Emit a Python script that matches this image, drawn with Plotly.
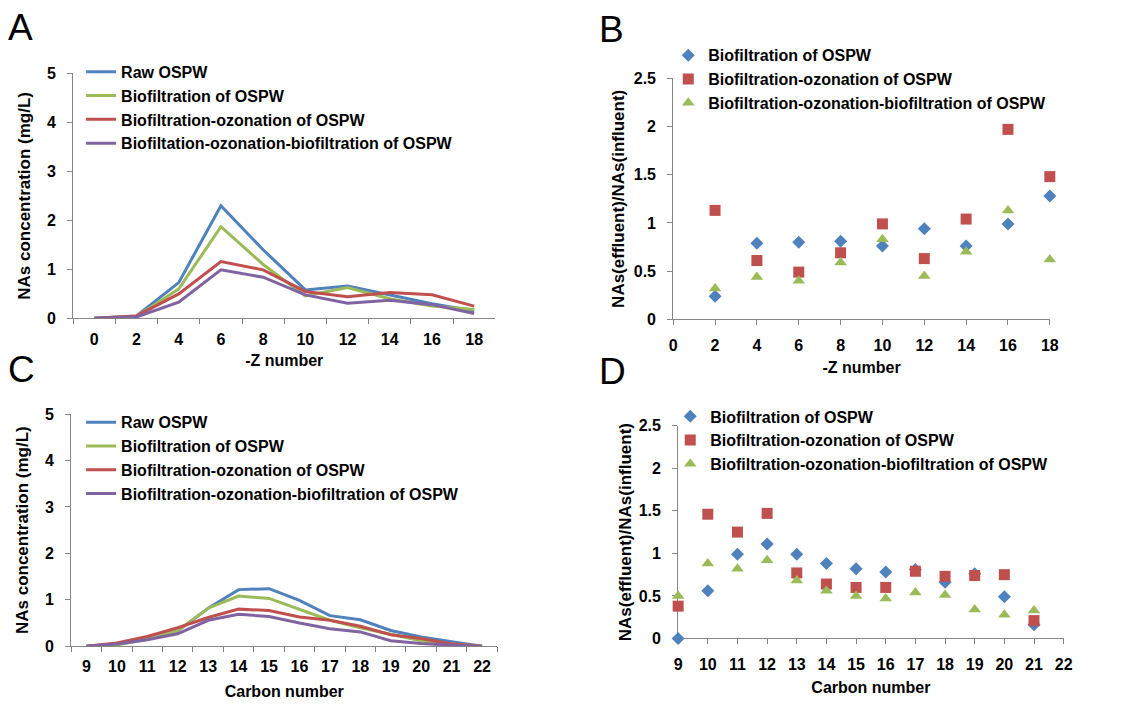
import plotly.graph_objects as go

# ---------------- data ----------------
z_numbers = [0, 2, 4, 6, 8, 10, 12, 14, 16, 18]
raw_z = [0, 0.05, 0.73, 2.30, 1.40, 0.58, 0.66, 0.48, 0.30, 0.15]
bio_z = [0, 0.04, 0.60, 1.87, 1.10, 0.46, 0.63, 0.40, 0.25, 0.18]
bo_z = [0, 0.05, 0.50, 1.16, 0.99, 0.55, 0.44, 0.53, 0.48, 0.25]
bob_z = [0, 0.03, 0.33, 0.99, 0.84, 0.48, 0.31, 0.37, 0.28, 0.10]

ratio_z_x = [2, 4, 6, 8, 10, 12, 14, 16, 18]
ratio_bio_z = [0.24, 0.79, 0.80, 0.81, 0.76, 0.94, 0.76, 0.99, 1.28]
ratio_bo_z = [1.13, 0.61, 0.49, 0.69, 0.99, 0.63, 1.04, 1.97, 1.48]
ratio_bob_z = [0.32, 0.44, 0.40, 0.59, 0.83, 0.45, 0.70, 1.13, 0.62]

carbon_numbers = [9, 10, 11, 12, 13, 14, 15, 16, 17, 18, 19, 20, 21, 22]
raw_c = [0, 0.05, 0.15, 0.33, 0.82, 1.22, 1.24, 0.99, 0.66, 0.57, 0.34, 0.20, 0.10, 0]
bio_c = [0, 0.03, 0.15, 0.33, 0.82, 1.08, 1.03, 0.80, 0.56, 0.40, 0.26, 0.12, 0.05, 0]
bo_c = [0, 0.07, 0.21, 0.40, 0.62, 0.80, 0.77, 0.63, 0.56, 0.43, 0.25, 0.17, 0.05, 0]
bob_c = [0, 0.05, 0.14, 0.27, 0.56, 0.69, 0.64, 0.50, 0.38, 0.31, 0.12, 0.06, 0.02, 0]

ratio_c_x = [9, 10, 11, 12, 13, 14, 15, 16, 17, 18, 19, 20, 21]
ratio_bio_c = [0.0, 0.56, 0.99, 1.11, 0.99, 0.88, 0.82, 0.78, 0.81, 0.66, 0.76, 0.49, 0.16]
ratio_bo_c = [0.38, 1.46, 1.25, 1.47, 0.77, 0.64, 0.60, 0.60, 0.79, 0.73, 0.74, 0.75, 0.21]
ratio_bob_c = [0.50, 0.88, 0.82, 0.92, 0.68, 0.56, 0.50, 0.47, 0.54, 0.51, 0.34, 0.28, 0.33]

line_names_a = ["Raw OSPW", "Biofiltration of OSPW", "Biofiltration-ozonation of OSPW",
                "Biofiltation-ozonation-biofiltration of OSPW"]
line_names_c = ["Raw OSPW", "Biofiltration of OSPW", "Biofiltration-ozonation of OSPW",
                "Biofiltration-ozonation-biofiltration of OSPW"]
scatter_names = ["Biofiltration of OSPW", "Biofiltration-ozonation of OSPW",
                 "Biofiltration-ozonation-biofiltration of OSPW"]

# ---------------- style ----------------
FONT = "Liberation Sans, Arial, sans-serif"
BLUE, GREEN, RED, PURPLE = "#4F81BD", "#9BBB59", "#C0504D", "#8064A2"
AXIS = "#868686"
W, H = 1130, 708

def px(x0, x1):
    return [x0 / W, x1 / W]

def py(y_top, y_bot):
    return [1 - y_bot / H, 1 - y_top / H]

fig = go.Figure()

# Panel A lines
for name, ys, col in zip(line_names_a, [raw_z, bio_z, bo_z, bob_z], [BLUE, GREEN, RED, PURPLE]):
    fig.add_trace(go.Scatter(x=[str(v) for v in z_numbers], y=ys, mode="lines", name=name,
                             line=dict(color=col, width=3), cliponaxis=False,
                             xaxis="x", yaxis="y", legend="legend"))

# Panel B scatter
for name, ys, col, sym, sz in zip(scatter_names, [ratio_bio_z, ratio_bo_z, ratio_bob_z],
                                  [BLUE, RED, GREEN], ["diamond", "square", "triangle-up"], [10, 11, 11]):
    fig.add_trace(go.Scatter(x=ratio_z_x, y=ys, mode="markers", name=name,
                             marker=dict(color=col, symbol=sym, size=sz), cliponaxis=False,
                             xaxis="x2", yaxis="y2", legend="legend2"))

# Panel C lines
for name, ys, col in zip(line_names_c, [raw_c, bio_c, bo_c, bob_c], [BLUE, GREEN, RED, PURPLE]):
    fig.add_trace(go.Scatter(x=[str(v) for v in carbon_numbers], y=ys, mode="lines", name=name,
                             line=dict(color=col, width=3), cliponaxis=False,
                             xaxis="x3", yaxis="y3", legend="legend3"))

# Panel D scatter
for name, ys, col, sym, sz in zip(scatter_names, [ratio_bio_c, ratio_bo_c, ratio_bob_c],
                                  [BLUE, RED, GREEN], ["diamond", "square", "triangle-up"], [10, 11, 11]):
    fig.add_trace(go.Scatter(x=ratio_c_x, y=ys, mode="markers", name=name,
                             marker=dict(color=col, symbol=sym, size=sz), cliponaxis=False,
                             xaxis="x4", yaxis="y4", legend="legend4"))

tickfont = dict(family=FONT, size=16, color="black", weight="bold")
titlefont = dict(family=FONT, size=16, color="black", weight="bold")
ytitlefont = dict(family=FONT, size=17, color="black", weight="bold")

common_x = dict(showline=True, linecolor=AXIS, linewidth=1, ticks="outside", ticklen=5,
                tickcolor=AXIS, showgrid=False, zeroline=False, tickfont=tickfont,
                ticklabelstandoff=6, layer="below traces")
common_y = dict(showline=True, linecolor=AXIS, linewidth=1, ticks="outside", ticklen=5,
                tickcolor=AXIS, showgrid=False, zeroline=False, tickfont=tickfont,
                ticklabelstandoff=8, layer="below traces")

legend_common = dict(bgcolor="rgba(0,0,0,0)", font=dict(family=FONT, size=16, color="black", weight="bold"),
                     xanchor="left", yanchor="top", tracegroupgap=0, itemwidth=30)

fig.update_layout(
    width=W, height=H, margin=dict(l=0, r=0, t=0, b=0),
    paper_bgcolor="white", plot_bgcolor="white",
    xaxis=dict(common_x, domain=px(70, 497), anchor="y", type="category", tickson="boundaries",
               range=[-0.5, 9.5], title=dict(text="-Z number", font=titlefont, standoff=8)),
    yaxis=dict(common_y, domain=py(67, 318), anchor="x", range=[0, 5], dtick=1,
               title=dict(text="NAs concentration (mg/L)", font=ytitlefont, standoff=12)),
    xaxis2=dict(common_x, domain=px(677, 1058), anchor="y2", range=[0, 18], dtick=2,
                title=dict(text="-Z number", font=titlefont, standoff=9)),
    yaxis2=dict(common_y, domain=py(72, 319), anchor="x2", range=[0, 2.5], dtick=0.5,
                title=dict(text="NAs(effluent)/NAs(influent)", font=ytitlefont, standoff=4)),
    xaxis3=dict(common_x, domain=px(68, 499), anchor="y3", type="category", tickson="boundaries",
                range=[-0.5, 13.5], title=dict(text="Carbon number", font=titlefont, standoff=11)),
    yaxis3=dict(common_y, domain=py(416, 654), anchor="x3", range=[0, 5], dtick=1,
                title=dict(text="NAs concentration (mg/L)", font=ytitlefont, standoff=12)),
    xaxis4=dict(common_x, domain=px(682, 1072), anchor="y4", range=[9, 22], dtick=1,
                title=dict(text="Carbon number", font=titlefont, standoff=10)),
    yaxis4=dict(common_y, domain=py(428, 646), anchor="x4", range=[0, 2.5], dtick=0.5,
                title=dict(text="NAs(effluent)/NAs(influent)", font=ytitlefont, standoff=2)),
    legend=dict(legend_common, x=78 / W, y=1 - 48 / H),
    legend2=dict(legend_common, x=672 / W, y=1 - 31 / H),
    legend3=dict(legend_common, x=78 / W, y=1 - 407 / H),
    legend4=dict(legend_common, x=674 / W, y=1 - 401 / H),
)

letters = [("A", 2, 43), ("B", 600, 45), ("C", 2, 393), ("D", 600, 396)]
for txt, x, yb in letters:
    fig.add_annotation(text=txt, x=x / W, y=1 - yb / H, xref="paper", yref="paper",
                       xanchor="left", yanchor="bottom", showarrow=False,
                       font=dict(family=FONT, size=37, color="black"))

fig.write_html("out.html")
